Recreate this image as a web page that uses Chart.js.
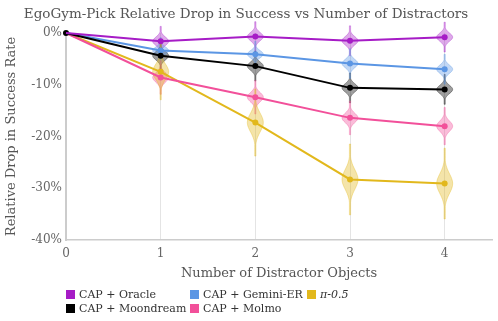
<!DOCTYPE html>
<html><head><meta charset="utf-8">
<script src="https://cdn.jsdelivr.net/npm/chart.js@4/dist/chart.umd.min.js"></script>
<style>
html,body{margin:0;padding:0;background:#fff;}
#wrap{position:relative;width:498px;height:321px;}
#legend{position:absolute;left:0;top:0;width:498px;height:321px;pointer-events:none;font-family:"DejaVu Serif",serif;font-size:11px;color:#333;}
.li{position:absolute;display:flex;align-items:center;white-space:nowrap;}
.li span.b{display:inline-block;width:9px;height:9px;margin-right:4px;}
</style></head>
<body><div id="wrap"><canvas id="c" width="498" height="321"></canvas><div id="legend"></div></div>
<script>
const distractors = [0, 1, 2, 3, 4];
const seriesNames = ["CAP + Oracle", "CAP + Moondream", "CAP + Gemini-ER", "CAP + Molmo", "π-0.5"];
const oracle    = [0, -1.6, -0.7, -1.5, -0.8];
const moondream = [0, -4.4, -6.4, -10.6, -10.9];
const geminiER  = [0, -3.4, -4.1, -5.9, -7.0];
const molmo     = [0, -8.6, -12.4, -16.4, -18.0];
const pi05      = [0, -7.5, -17.3, -28.3, -29.1];
// spread (std dev, %) of each violin
const oracleSpread    = [0, 0.8, 0.8, 0.8, 0.8];
const moondreamSpread = [0, 0.8, 0.8, 0.8, 0.8];
const geminiSpread    = [0, 0.7, 0.7, 0.8, 0.8];
const molmoSpread     = [0, 0.9, 0.9, 0.9, 1.0];
const pi05Spread      = [0, 1.5, 1.8, 1.9, 1.9];
const yTicks = [0, -10, -20, -30, -40];

const colors = ["#a61cc6", "#000000", "#5b96e4", "#f2509a", "#e2b81c"];
const values = [oracle, moondream, geminiER, molmo, pi05];
const spreads = [oracleSpread, moondreamSpread, geminiSpread, molmoSpread, pi05Spread];

const FONT = "DejaVu Serif";

function hexA(h, a){const r=parseInt(h.slice(1,3),16),g=parseInt(h.slice(3,5),16),b=parseInt(h.slice(5,7),16);return `rgba(${r},${g},${b},${a})`;}

const datasets = values.map((v, i) => ({
  label: seriesNames[i],
  data: distractors.map((x, j) => ({x, y: v[j]})),
  spread: spreads[i],
  borderColor: colors[i],
  backgroundColor: colors[i],
  borderWidth: 2,
  pointRadius: distractors.map((x, j) => (j === 0 && i !== 1) ? 0 : 3),
  pointBorderWidth: 0,
  pointBackgroundColor: colors[i],
  tension: 0,
  clip: false
}));

const violinPlugin = {
  id: 'violins',
  beforeDatasetsDraw(chart) {
    const ctx = chart.ctx, xs = chart.scales.x, ys = chart.scales.y;
    chart.data.datasets.forEach((ds, i) => {
      ds.data.forEach((p, j) => {
        const s = ds.spread[j];
        if (!s) return;
        const cx = xs.getPixelForValue(p.x);
        const W = 8;
        const steps = 40;
        const pts = [];
        for (let k = 0; k <= steps; k++) {
          const z = -3.6 + 7.2 * k / steps;
          const yv = p.y + z * s;
          const w = W * Math.exp(-z * z / 2);
          pts.push([ys.getPixelForValue(yv), Math.max(w, 0.6)]);
        }
        ctx.save();
        ctx.beginPath();
        pts.forEach(([py, w], k) => { if (k === 0) ctx.moveTo(cx + w, py); else ctx.lineTo(cx + w, py); });
        for (let k = pts.length - 1; k >= 0; k--) ctx.lineTo(cx - pts[k][1], pts[k][0]);
        ctx.closePath();
        ctx.fillStyle = hexA(colors[i], 0.38);
        ctx.fill();
        ctx.lineWidth = 0.8;
        ctx.strokeStyle = hexA(colors[i], 0.45);
        ctx.stroke();
        ctx.restore();
      });
    });
  }
};

new Chart(document.getElementById('c'), {
  type: 'line',
  data: { datasets },
  plugins: [violinPlugin],
  options: {
    responsive: false,
    animation: false,
    layout: { padding: { left: 0, right: 6, top: 0, bottom: 36 } },
    plugins: {
      legend: { display: false },
      tooltip: { enabled: false },
      title: {
        display: true,
        text: 'EgoGym-Pick Relative Drop in Success vs Number of Distractors',
        color: '#555',
        font: { family: FONT, size: 13.5, weight: 'normal' },
        padding: { top: 6, bottom: 10.8 }
      }
    },
    scales: {
      x: {
        type: 'linear', min: 0, max: 4.5,
        afterBuildTicks(sc) { sc.ticks = distractors.map(v => ({ value: v })); },
        afterFit(sc) { sc.height = 45; },
        ticks: { color: '#666', font: { family: FONT, size: 12 }, padding: 7, callback: v => String(v) },
        grid: { color: '#e4e4e4', lineWidth: 1, drawTicks: false },
        border: { color: '#cccccc', width: 1.5 },
        title: { display: true, text: 'Number of Distractor Objects', color: '#555', font: { family: FONT, size: 13 }, padding: { top: 4, bottom: 4 } }
      },
      y: {
        type: 'linear', min: -40, max: 0,
        afterBuildTicks(sc) { sc.ticks = yTicks.map(v => ({ value: v })); },
        afterFit(sc) { sc.width = 66; },
        ticks: { color: '#666', font: { family: FONT, size: 12 }, padding: 4, callback: v => v + '%' },
        grid: { display: false, drawTicks: false },
        border: { color: '#cccccc', width: 2 },
        title: { display: true, text: 'Relative Drop in Success Rate', color: '#555', font: { family: FONT, size: 13 }, padding: { top: 4, bottom: 4 } }
      }
    }
  }
});

// legend (column-major, 3 columns)
const legendPos = [[66, 295], [66, 309], [190, 295], [190, 309], [307, 295]];
const lg = document.getElementById('legend');
seriesNames.forEach((n, i) => {
  const d = document.createElement('div');
  d.className = 'li';
  d.style.left = legendPos[i][0] + 'px';
  d.style.top = (legendPos[i][1] - 7) + 'px';
  const b = document.createElement('span'); b.className = 'b'; b.style.background = colors[i];
  const t = document.createElement('span'); t.textContent = n;
  if (i === 4) t.style.fontStyle = 'italic';
  d.appendChild(b); d.appendChild(t); lg.appendChild(d);
});
</script></body></html>
